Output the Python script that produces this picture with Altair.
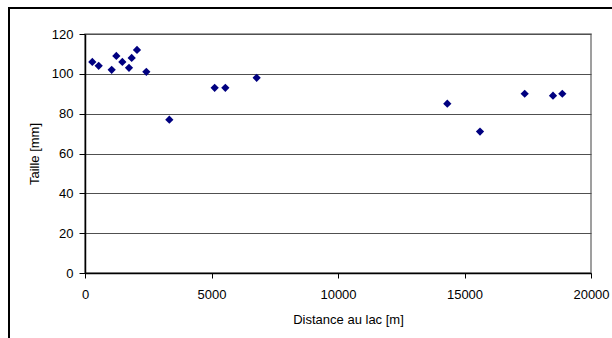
import altair as alt
import pandas as pd

distance = [289, 541, 1054, 1238, 1476, 1739, 1845, 2055, 2424, 3333,
            5125, 5547, 6785, 14320, 15613, 17379, 18498, 18866]
taille = [106, 104, 102, 109, 106, 103, 108, 112, 101, 77,
          93, 93, 98, 85, 71, 90, 89, 90]

df = pd.DataFrame({"distance": distance, "taille": taille})

FONT = "Liberation Sans"

points = alt.Chart(df).mark_point(
    shape="diamond", filled=True, color="#000080", size=68, opacity=1
).encode(
    x=alt.X("distance:Q",
            scale=alt.Scale(domain=[0, 20000], nice=False, zero=True),
            axis=alt.Axis(title="Distance au lac [m]", values=[0, 5000, 10000, 15000, 20000],
                          format="d",
                          grid=False, domainColor="#000000", domainWidth=1.5,
                          tickColor="#000000", tickSize=5, tickWidth=1,
                          labelFont=FONT, labelFontSize=13, labelColor="#000000",
                          labelBaseline="middle", labelPadding=16, labelFlush=False,
                          titleFont=FONT, titleFontSize=13, titleFontWeight="normal",
                          titleColor="#000000", titleBaseline="middle",
                          titleX=263, titleY=46)),
    y=alt.Y("taille:Q",
            scale=alt.Scale(domain=[0, 120], nice=False),
            axis=alt.Axis(title="Taille [mm]", values=[0, 20, 40, 60, 80, 100, 120],
                          format="d",
                          grid=True, gridColor="#505050", gridWidth=1,
                          domainColor="#000000", domainWidth=1.5,
                          tickColor="#000000", tickSize=6, tickWidth=1,
                          labelFont=FONT, labelFontSize=13, labelColor="#000000",
                          labelPadding=6,
                          titleFont=FONT, titleFontSize=13, titleFontWeight="normal",
                          titleColor="#000000", titleBaseline="middle",
                          titleX=-51, titleY=119.5, titleAngle=270)),
)

border = alt.Chart(df).mark_rect(
    fill=None, stroke="#000000", strokeWidth=1.2, clip=False
).encode(
    x=alt.value(-76), x2=alt.value(535),
    y=alt.value(-26), y2=alt.value(310),
)

chart = alt.layer(border, points).properties(
    width=506, height=239,
    padding={"left": 85, "top": 34, "right": 21, "bottom": 65},
    autosize=alt.AutoSizeParams(type="none"),
    background="#ffffff",
).configure_view(
    stroke="#808080", strokeWidth=1.5
)

chart.save("out.html", embed_options={"renderer": "svg", "actions": False})
